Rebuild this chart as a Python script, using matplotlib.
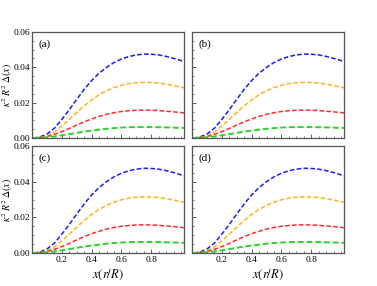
import numpy as np
import matplotlib
matplotlib.use("Agg")
import matplotlib.pyplot as plt
from matplotlib.ticker import MultipleLocator

plt.rcParams['font.family'] = ['Liberation Serif', 'DejaVu Serif']
plt.rcParams['mathtext.fontset'] = 'stix'

# values
x = [0.01, 0.05, 0.10, 0.15, 0.20, 0.25, 0.30, 0.35, 0.40, 0.45, 0.50,
     0.55, 0.60, 0.65, 0.70, 0.75, 0.80, 0.85, 0.90, 0.95, 1.00, 1.02]
blue = [0.0, 0.0005, 0.0022, 0.0055, 0.0105, 0.0160, 0.0218, 0.0275, 0.0325, 0.0367, 0.0400,
        0.0427, 0.0447, 0.0461, 0.0470, 0.0475, 0.0474, 0.0470, 0.0462, 0.0451, 0.0438, 0.0432]
orange = [0.0, 0.0002, 0.0012, 0.0034, 0.0067, 0.0105, 0.0144, 0.0182, 0.0216, 0.0245, 0.0267,
          0.0285, 0.0298, 0.0308, 0.0313, 0.0315, 0.0314, 0.0311, 0.0305, 0.0297, 0.0288, 0.0284]
red = [0.0, 0.0001, 0.0008, 0.0020, 0.0036, 0.0054, 0.0073, 0.0091, 0.0108, 0.0122, 0.0134,
       0.0143, 0.0150, 0.0154, 0.0157, 0.0158, 0.0157, 0.0155, 0.0152, 0.0148, 0.0144, 0.0142]
green = [0.0, 0.0001, 0.0004, 0.0009, 0.0015, 0.0022, 0.0029, 0.0036, 0.0042, 0.0047, 0.0052,
         0.0056, 0.0059, 0.0061, 0.0062, 0.0062, 0.0062, 0.0061, 0.0060, 0.0059, 0.0057, 0.0057]

series = [(blue, '#1a1aff'), (orange, '#ffb41e'), (red, '#ff2a2a'), (green, '#2ad42a')]
panels = ['(a)', '(b)', '(c)', '(d)']

fig = plt.figure(figsize=(3.77, 2.86), dpi=100)
W, H = 377, 286
boxes = [(32, 32, 152, 106), (192, 32, 152, 106), (32, 146, 152, 107), (192, 146, 152, 107)]

for i, (l, t, w, h) in enumerate(boxes):
    ax = fig.add_axes([l / W, 1 - (t + h) / H, w / W, h / H])
    for ys, c in series:
        lw = 1.4 if c == '#2ad42a' else 1.1
        ax.plot(x, ys, color=c, ls=(0, (3, 1.5)), lw=lw)
    ax.set_xlim(0, 1.02)
    ax.set_ylim(0, 0.06)
    ax.xaxis.set_minor_locator(MultipleLocator(0.05))
    ax.yaxis.set_minor_locator(MultipleLocator(0.005))
    ax.tick_params(which='both', direction='in', labelsize=6.8, colors='#444444',
                   labelcolor='black', pad=1.2)
    ax.tick_params(which='major', length=3, width=0.6)
    ax.tick_params(which='minor', length=1.5, width=0.5)
    for s in ax.spines.values():
        s.set_color('#555555')
        s.set_linewidth(0.9)
    ax.set_xticks([0.2, 0.4, 0.6, 0.8])
    ax.set_yticks([0.0, 0.02, 0.04, 0.06])
    ax.set_yticklabels(['0.00', '0.02', '0.04', '0.06'])
    ax.tick_params(axis='x', pad=2.5)
    if i % 2 == 1:
        ax.set_yticklabels([])
    else:
        ax.set_ylabel(r'$\kappa^2\ R^2\ \Delta(x)$', fontsize=7)
        ax.yaxis.set_label_coords(-0.112, 0.5)
    if i < 2:
        ax.set_xticklabels([])
    else:
        ax.set_xlabel(r'$x(r/R)$', fontsize=9, labelpad=2)
    ax.text(0.04, 0.93, panels[i], transform=ax.transAxes, fontsize=8, va='top', ha='left')

fig.savefig('out.png', dpi=100)
